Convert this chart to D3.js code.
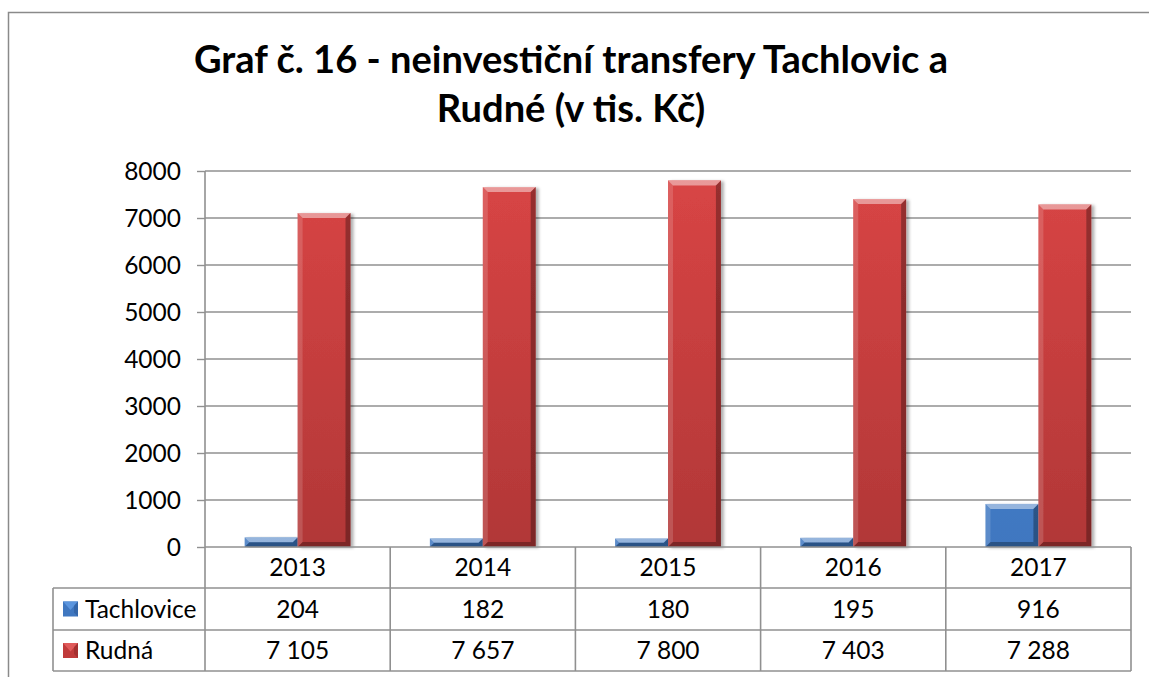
<!DOCTYPE html>
<html><head><meta charset="utf-8">
<script src="https://cdn.jsdelivr.net/npm/d3@7/dist/d3.min.js"></script>
<style>
html,body{margin:0;padding:0;background:#fff;overflow:hidden}
text{font-family:Lato,"Open Sans",sans-serif;fill:#000}
</style></head>
<body>
<svg id="c" width="1149" height="677"></svg>
<script>
const titleLines = ["Graf č. 16 - neinvestiční transfery Tachlovic a", "Rudné (v tis. Kč)"];
const years = ["2013", "2014", "2015", "2016", "2017"];
const seriesNames = ["Tachlovice", "Rudná"];
const tachlovice = [204, 182, 180, 195, 916];
const rudna = [7105, 7657, 7800, 7403, 7288];
const tableLabels = [["204", "182", "180", "195", "916"], ["7 105", "7 657", "7 800", "7 403", "7 288"]];
const yTicks = [0, 1000, 2000, 3000, 4000, 5000, 6000, 7000, 8000];

const svg = d3.select("#c");
const L = 205, R = 1131, T = 171, B = 547;
const rowH = [41, 42, 41];
const legendL = 53;
const fontSize = 24.5;

const defs = svg.append("defs");
const grads = [
  {id: "gBlue", top: "#4f8ad6", bot: "#3f77c0"},
  {id: "gRed", top: "#d94545", bot: "#b13737"}
];
grads.forEach(g => {
  const lg = defs.append("linearGradient").attr("id", g.id)
    .attr("gradientUnits", "userSpaceOnUse").attr("x1", 0).attr("y1", T).attr("x2", 0).attr("y2", B);
  lg.append("stop").attr("offset", 0).attr("stop-color", g.top);
  lg.append("stop").attr("offset", 1).attr("stop-color", g.bot);
});
const sh = defs.append("filter").attr("id", "shadow").attr("x", "-20%").attr("y", "-5%").attr("width", "150%").attr("height", "115%");
sh.append("feDropShadow").attr("dx", 3).attr("dy", 1).attr("stdDeviation", 1.8).attr("flood-color", "#000").attr("flood-opacity", 0.3);

// outer border
svg.append("rect").attr("x", 8.5).attr("y", 12.5).attr("width", 1200).attr("height", 800)
  .attr("fill", "none").attr("stroke", "#8a8a8a").attr("stroke-width", 1.5);

// title
const tg = svg.append("g");
const titleY = [73, 122];
const tFs = 38;
const titleNodes = titleLines.map((t, i) => tg.append("text").attr("x", 571).attr("y", titleY[i]).attr("text-anchor", "middle")
    .attr("font-weight", "bold").attr("font-size", tFs).text(t));
const w0 = titleNodes[0].node().getComputedTextLength();
const ratio = 754 / w0;
titleNodes.forEach(n => {
  const w = n.node().getComputedTextLength();
  n.attr("textLength", w * ratio).attr("lengthAdjust", "spacingAndGlyphs");
});

const x = d3.scaleBand().domain(years).range([L, R]).paddingInner(0).paddingOuter(0);
const y = d3.scaleLinear().domain([0, 8000]).range([B, T]);
const step = x.step();
const barW = step / 3.5;
const xs = d3.scaleBand().domain(seriesNames).range([step / 2 - barW, step / 2 + barW]);

// gridlines
svg.append("g").selectAll("line").data(yTicks.slice(1)).join("line")
  .attr("x1", L).attr("x2", R).attr("y1", d => y(d)).attr("y2", d => y(d))
  .attr("stroke", "#909090").attr("stroke-width", 1.4);

// y axis
const yAxis = d3.axisLeft(y).tickValues(yTicks).tickSize(8).tickPadding(16).tickFormat(d3.format("d"));
const ya = svg.append("g").attr("transform", `translate(${L},0)`).call(yAxis);
ya.select(".domain").remove();
ya.selectAll(".tick line").attr("stroke", "#909090").attr("stroke-width", 1.4);
ya.selectAll(".tick text").attr("font-size", fontSize).attr("font-family", "Lato").attr("fill", "#000").attr("dy", "0.36em");

// bars
function bevelBar(g, x0, w, v, grad, light, dark) {
  const y0 = y(v), h = B - y0;
  const b = Math.min(5, h / 2, w / 2);
  const gg = g.append("g").attr("filter", "url(#shadow)");
  gg.append("rect").attr("x", x0).attr("y", y0).attr("width", w).attr("height", h).attr("fill", `url(#${grad})`);
  const x1 = x0 + w, y1 = y0 + h;
  const poly = (pts, fill, op) => gg.append("polygon").attr("points", pts.map(p => p.join(",")).join(" ")).attr("fill", fill).attr("fill-opacity", op);
  poly([[x0, y0], [x1, y0], [x1 - b, y0 + b], [x0 + b, y0 + b]], light, 0.45);
  poly([[x0, y0], [x0 + b, y0 + b], [x0 + b, y1 - b], [x0, y1]], light, 0.15);
  poly([[x1, y0], [x1, y1], [x1 - b, y1 - b], [x1 - b, y0 + b]], dark, 0.3);
  poly([[x0, y1], [x0 + b, y1 - b], [x1 - b, y1 - b], [x1, y1]], dark, 0.3);
}
const barsG = svg.append("g");
years.forEach((yr, i) => {
  bevelBar(barsG, x(yr) + xs("Tachlovice"), xs.bandwidth(), tachlovice[i], "gBlue", "#ffffff", "#000000");
  bevelBar(barsG, x(yr) + xs("Rudná"), xs.bandwidth(), rudna[i], "gRed", "#ffffff", "#000000");
});

// table
const tbl = svg.append("g");
const rowY = [B, B + rowH[0], B + rowH[0] + rowH[1], B + rowH[0] + rowH[1] + rowH[2]];
const lineC = "#909090", lineW = 1.6;
tbl.append("line").attr("x1", L).attr("x2", L).attr("y1", T).attr("y2", rowY[3]).attr("stroke", lineC).attr("stroke-width", lineW);
tbl.append("line").attr("x1", L).attr("x2", R).attr("y1", B).attr("y2", B).attr("stroke", lineC).attr("stroke-width", lineW);
[1, 2, 3].forEach(k => tbl.append("line").attr("x1", legendL).attr("x2", R).attr("y1", rowY[k]).attr("y2", rowY[k]).attr("stroke", lineC).attr("stroke-width", lineW));
years.forEach((yr, i) => {
  const xx = x(yr) + step;
  tbl.append("line").attr("x1", xx).attr("x2", xx).attr("y1", B).attr("y2", rowY[3]).attr("stroke", lineC).attr("stroke-width", lineW);
});
tbl.append("line").attr("x1", legendL).attr("x2", legendL).attr("y1", rowY[1]).attr("y2", rowY[3]).attr("stroke", lineC).attr("stroke-width", lineW);

years.forEach((yr, i) => {
  tbl.append("text").attr("x", x(yr) + step / 2).attr("y", (rowY[0] + rowY[1]) / 2).attr("dy", "0.36em")
    .attr("text-anchor", "middle").attr("font-size", fontSize).text(yr);
});
tableLabels.forEach((row, r) => {
  row.forEach((lab, i) => {
    tbl.append("text").attr("x", x(years[i]) + step / 2).attr("y", (rowY[r + 1] + rowY[r + 2]) / 2).attr("dy", "0.36em")
      .attr("text-anchor", "middle").attr("font-size", fontSize).text(lab);
  });
});
const mk = [{top: "#5b95de", mid: "#3f77c0", dark: "#2a5592"}, {top: "#e05a5a", mid: "#c03a3a", dark: "#8a2424"}];
seriesNames.forEach((s, r) => {
  const cy = (rowY[r + 1] + rowY[r + 2]) / 2;
  const mx = 63, my = cy - 7.5, m = 15, b = 4;
  const g = tbl.append("g");
  g.append("rect").attr("x", mx).attr("y", my).attr("width", m).attr("height", m).attr("fill", mk[r].mid);
  g.append("polygon").attr("points", `${mx},${my} ${mx + m},${my} ${mx + m / 2},${my + m / 2 + 1}`).attr("fill", mk[r].top);
  g.append("polygon").attr("points", `${mx + m},${my} ${mx + m},${my + m} ${mx + m - b},${my + m - b} ${mx + m - b},${my + b}`).attr("fill", mk[r].dark).attr("fill-opacity", 0.5);
  tbl.append("text").attr("x", 85).attr("y", cy).attr("dy", "0.36em").attr("font-size", fontSize).text(s);
});
</script>
</body></html>
